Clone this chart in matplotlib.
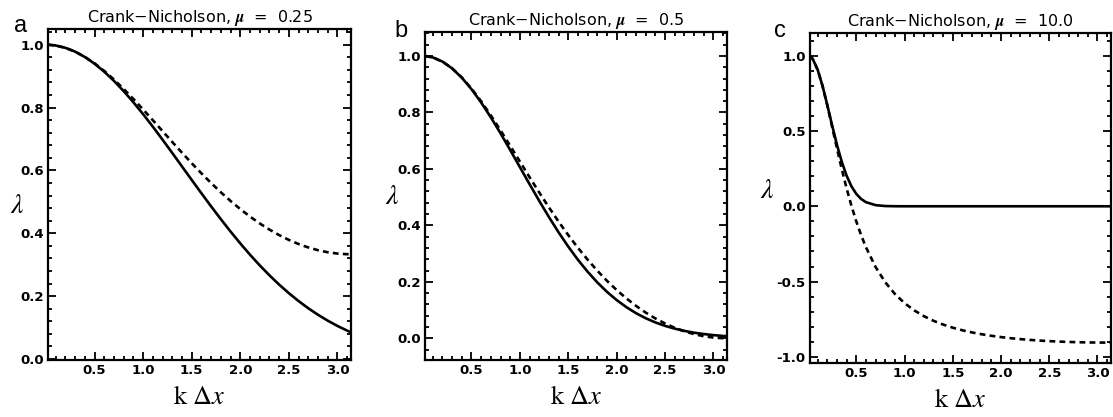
import numpy as np
import matplotlib
matplotlib.use("Agg")
import matplotlib.pyplot as plt
from matplotlib.ticker import MultipleLocator

plt.rcParams['mathtext.fontset'] = 'stix'

# values (k dx on x, lambda on y)
x_ab = [0.02, 0.1, 0.2, 0.3, 0.4, 0.5, 0.6, 0.7, 0.8, 0.9, 1.0, 1.1, 1.2, 1.3, 1.4, 1.5,
        1.6, 1.7, 1.8, 1.9, 2.0, 2.1, 2.2, 2.3, 2.4, 2.5, 2.6, 2.7, 2.8, 2.9, 3.0, 3.1, 3.14]

cn_025 = [1.0, 0.9975, 0.9901, 0.9779, 0.9613, 0.9406, 0.9163, 0.8890, 0.8590, 0.8272,
          0.7938, 0.7596, 0.7250, 0.6904, 0.6563, 0.6230, 0.5907, 0.5598, 0.5305, 0.5028,
          0.4771, 0.4533, 0.4315, 0.4119, 0.3944, 0.3790, 0.3659, 0.3550, 0.3463, 0.3398,
          0.3356, 0.3335, 0.3333]
ex_025 = [1.0, 0.9975, 0.9900, 0.9778, 0.9608, 0.9394, 0.9139, 0.8847, 0.8521, 0.8167,
          0.7788, 0.7390, 0.6977, 0.6554, 0.6126, 0.5698, 0.5273, 0.4855, 0.4449, 0.4056,
          0.3679, 0.3320, 0.2982, 0.2665, 0.2369, 0.2096, 0.1845, 0.1616, 0.1409, 0.1222,
          0.1054, 0.0905, 0.0850]

cn_05 = [1.0, 0.9950, 0.9803, 0.9563, 0.9241, 0.8846, 0.8394, 0.7896, 0.7366, 0.6818,
         0.6262, 0.5708, 0.5165, 0.4639, 0.4134, 0.3655, 0.3205, 0.2784, 0.2395, 0.2036,
         0.1709, 0.1413, 0.1147, 0.0910, 0.0703, 0.0523, 0.0371, 0.0246, 0.0147, 0.0073,
         0.0025, 0.0002, 0.0]
ex_05 = [1.0, 0.9950, 0.9802, 0.9560, 0.9231, 0.8825, 0.8353, 0.7827, 0.7262, 0.6670,
         0.6065, 0.5461, 0.4868, 0.4296, 0.3753, 0.3247, 0.2780, 0.2358, 0.1979, 0.1645,
         0.1353, 0.1103, 0.0889, 0.0710, 0.0561, 0.0439, 0.0341, 0.0261, 0.0198, 0.0149,
         0.0111, 0.0082, 0.0072]

x_c = [0.02, 0.05, 0.1, 0.15, 0.2, 0.25, 0.3, 0.35, 0.4, 0.45, 0.5, 0.55, 0.6, 0.7, 0.8,
       0.9, 1.0, 1.1, 1.2, 1.3, 1.4, 1.5, 1.6, 1.7, 1.8, 1.9, 2.0, 2.1, 2.2, 2.3, 2.4, 2.5,
       2.6, 2.7, 2.8, 2.9, 3.0, 3.1, 3.14]
cn_10 = [1.0, 0.9753, 0.9048, 0.7981, 0.6676, 0.5257, 0.3825, 0.2451, 0.1177, 0.0022,
         -0.1008, -0.1918, -0.2718, -0.4033, -0.5041, -0.5819, -0.6427, -0.6906, -0.7289,
         -0.7598, -0.7850, -0.8057, -0.8229, -0.8372, -0.8493, -0.8595, -0.8681, -0.8754,
         -0.8816, -0.8868, -0.8912, -0.8948, -0.8978, -0.9002, -0.9021, -0.9034, -0.9043,
         -0.9047, -0.9048]
ex_10 = [1.0, 0.9753, 0.9048, 0.7985, 0.6703, 0.5353, 0.4066, 0.2938, 0.2019, 0.1320,
         0.0821, 0.0486, 0.0273, 0.0075, 0.0017, 0.0003, 0.0, 0.0, 0.0, 0.0, 0.0, 0.0, 0.0,
         0.0, 0.0, 0.0, 0.0, 0.0, 0.0, 0.0, 0.0, 0.0, 0.0, 0.0, 0.0, 0.0, 0.0, 0.0, 0.0]

mus = ['0.25', '0.5', '10.0']
letters = ['a', 'b', 'c']

fig = plt.figure(figsize=(11.13, 4.17), dpi=100)
W, H = 1113.0, 417.0

# axes boxes in pixels: left, top, right, bottom
boxes = [(48, 29, 351, 360), (425, 32, 727, 360), (810, 33, 1111, 363)]
ylims = [(-0.003, 1.05), (-0.077, 1.085), (-1.04, 1.15)]
ymajor = [0.2, 0.2, 0.5]
yminor = [0.04, 0.04, 0.1]
letter_pos = [(14, 32), (394, 37), (774, 37)]
lam_pos = [(17, 205), (392, 196), (767, 190)]

data = [(x_ab, ex_025, cn_025), (x_ab, ex_05, cn_05), (x_c, ex_10, cn_10)]

for i in range(3):
    l, t, r, b = boxes[i]
    ax = fig.add_axes([l / W, 1 - b / H, (r - l) / W, (b - t) / H])
    xs, ex, cn = data[i]
    ax.plot(xs, ex, color='black', lw=1.9)
    ax.plot(xs, cn, color='black', lw=1.9, dashes=(2.2, 1.6))
    ax.set_xlim(0.02, 3.14)
    ax.set_ylim(*ylims[i])
    ax.xaxis.set_major_locator(MultipleLocator(0.5))
    ax.xaxis.set_minor_locator(MultipleLocator(0.1))
    ax.yaxis.set_major_locator(MultipleLocator(ymajor[i]))
    ax.yaxis.set_minor_locator(MultipleLocator(yminor[i]))
    ax.tick_params(which='both', direction='in', top=True, right=True, width=1.3,
                   labelsize=9.5, pad=3)
    ax.tick_params(which='major', length=6)
    ax.tick_params(which='minor', length=3)
    for lab in ax.get_xticklabels() + ax.get_yticklabels():
        lab.set_fontweight('bold')
    ax.xaxis.set_major_formatter(plt.FuncFormatter(lambda v, p: '%.1f' % v))
    ax.yaxis.set_major_formatter(plt.FuncFormatter(lambda v, p: '%.1f' % v))
    for s in ax.spines.values():
        s.set_linewidth(1.6)
    ax.set_title('Crank\u2212Nicholson, $\\boldsymbol{\\mu}$  =  ' + mus[i],
                 fontsize=11.5, pad=5)
    ax.set_xlabel(r'$\mathrm{k}\ \Delta x$', fontsize=19, labelpad=5)
    fig.text(letter_pos[i][0] / W, 1 - letter_pos[i][1] / H, letters[i],
             fontsize=17, family='Liberation Sans', va='baseline')
    fig.text(lam_pos[i][0] / W, 1 - lam_pos[i][1] / H, r'$\lambda$',
             fontsize=20, ha='center', va='center')

fig.savefig('out.png', dpi=100)
